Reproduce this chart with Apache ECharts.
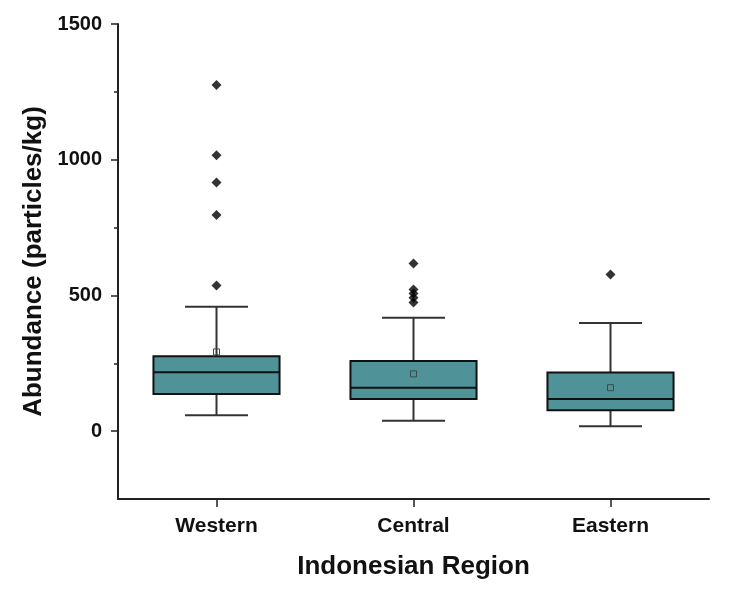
<!DOCTYPE html>
<html>
<head>
<meta charset="utf-8">
<script src="https://cdn.jsdelivr.net/npm/echarts@6/dist/echarts.min.js"></script>
<style>
  html, body { margin: 0; padding: 0; background: #fff; }
  #main { width: 754px; height: 596px; }
</style>
</head>
<body>
<div id="main"></div>
<script>
// data
let regions = ['Western', 'Central', 'Eastern']
let whiskerLow = [59, 38, 18]
let q1 = [137, 118, 77]
let median = [217, 160, 118]
let q3 = [276, 258, 216]
let whiskerHigh = [458, 418, 398]
let means = [292, 211, 160]
let outliers = [
  [1275, 1016, 916, 796, 537],
  [618, 522, 507, 491, 474],
  [577]
]
let majorTicks = [0, 500, 1000, 1500]
let minorTicks = [250, 750, 1250]

let font = '"Liberation Sans", Arial, sans-serif'
let boxColor = '#4f9399'

let boxData = regions.map((r, i) => [i, whiskerLow[i], q1[i], median[i], q3[i], whiskerHigh[i], means[i]])
let outlierData = []
outliers.forEach((list, i) => {
  list.forEach(v => outlierData.push([i, v]))
})

// one box + whiskers + mean marker per category
let renderBox = (params, api) => {
  let x = api.value(0)
  let band = api.size([1, 0])[0]
  let boxW = band * 0.64
  let capW = boxW / 2
  let pLow = api.coord([x, api.value(1)])
  let pQ1 = api.coord([x, api.value(2)])
  let pMed = api.coord([x, api.value(3)])
  let pQ3 = api.coord([x, api.value(4)])
  let pHigh = api.coord([x, api.value(5)])
  let pMean = api.coord([x, api.value(6)])
  let cx = pQ1[0]
  let lineStyle = { stroke: '#333', lineWidth: 2 }
  return {
    type: 'group',
    children: [
      { type: 'line', shape: { x1: cx, y1: pHigh[1], x2: cx, y2: pQ3[1] }, style: lineStyle },
      { type: 'line', shape: { x1: cx, y1: pQ1[1], x2: cx, y2: pLow[1] }, style: lineStyle },
      { type: 'line', shape: { x1: cx - capW / 2, y1: pHigh[1], x2: cx + capW / 2, y2: pHigh[1] }, style: lineStyle },
      { type: 'line', shape: { x1: cx - capW / 2, y1: pLow[1], x2: cx + capW / 2, y2: pLow[1] }, style: lineStyle },
      {
        type: 'rect',
        shape: { x: cx - boxW / 2, y: pQ3[1], width: boxW, height: pQ1[1] - pQ3[1] },
        style: { fill: boxColor, stroke: '#111', lineWidth: 2 }
      },
      { type: 'line', shape: { x1: cx - boxW / 2, y1: pMed[1], x2: cx + boxW / 2, y2: pMed[1] }, style: { stroke: '#111', lineWidth: 2 } },
      {
        type: 'rect',
        shape: { x: cx - 3, y: pMean[1] - 3, width: 6, height: 6 },
        style: { fill: 'none', stroke: '#3a4a4c', lineWidth: 1 }
      }
    ]
  }
}

let chart = echarts.init(document.getElementById('main'))
let option = {
  animation: false,
  backgroundColor: '#fff',
  grid: { left: 118, right: 45, top: 24, bottom: 97 },
  xAxis: {
    type: 'category',
    data: regions,
    boundaryGap: true,
    name: 'Indonesian Region',
    nameLocation: 'middle',
    nameGap: 55,
    nameTextStyle: { fontFamily: font, fontWeight: 'bold', fontSize: 26, color: '#111' },
    axisLine: { onZero: false, lineStyle: { color: '#222', width: 2 } },
    axisTick: { show: true, alignWithLabel: true, length: 8, lineStyle: { color: '#222', width: 1.5 } },
    axisLabel: { fontFamily: font, fontWeight: 'bold', fontSize: 21, color: '#111', margin: 17 }
  },
  yAxis: [
    {
      type: 'value',
      min: -250,
      max: 1500,
      name: 'Abundance (particles/kg)',
      nameLocation: 'middle',
      nameGap: 62,
      nameTextStyle: { fontFamily: font, fontWeight: 'bold', fontSize: 26, color: '#111' },
      splitLine: { show: false },
      axisLine: { show: true, onZero: false, lineStyle: { color: '#222', width: 2 } },
      axisTick: { show: true, length: 7, customValues: majorTicks, lineStyle: { color: '#222', width: 1.5 } },
      axisLabel: {
        customValues: majorTicks,
        formatter: v => String(v),
        fontFamily: font, fontWeight: 'bold', fontSize: 20, color: '#111', margin: 16
      }
    },
    {
      // short minor ticks
      type: 'value',
      position: 'left',
      min: -250,
      max: 1500,
      splitLine: { show: false },
      axisLine: { show: false },
      axisTick: { show: true, length: 4, customValues: minorTicks, lineStyle: { color: '#222', width: 1.5 } },
      axisLabel: { show: false }
    }
  ],
  series: [
    {
      type: 'custom',
      renderItem: renderBox,
      encode: { x: 0, y: [1, 2, 3, 4, 5, 6] },
      data: boxData,
      z: 2
    },
    {
      type: 'scatter',
      symbol: 'diamond',
      symbolSize: 10,
      itemStyle: { color: '#000' },
      data: outlierData,
      z: 3
    }
  ]
}
chart.setOption(option)
</script>
</body>
</html>
